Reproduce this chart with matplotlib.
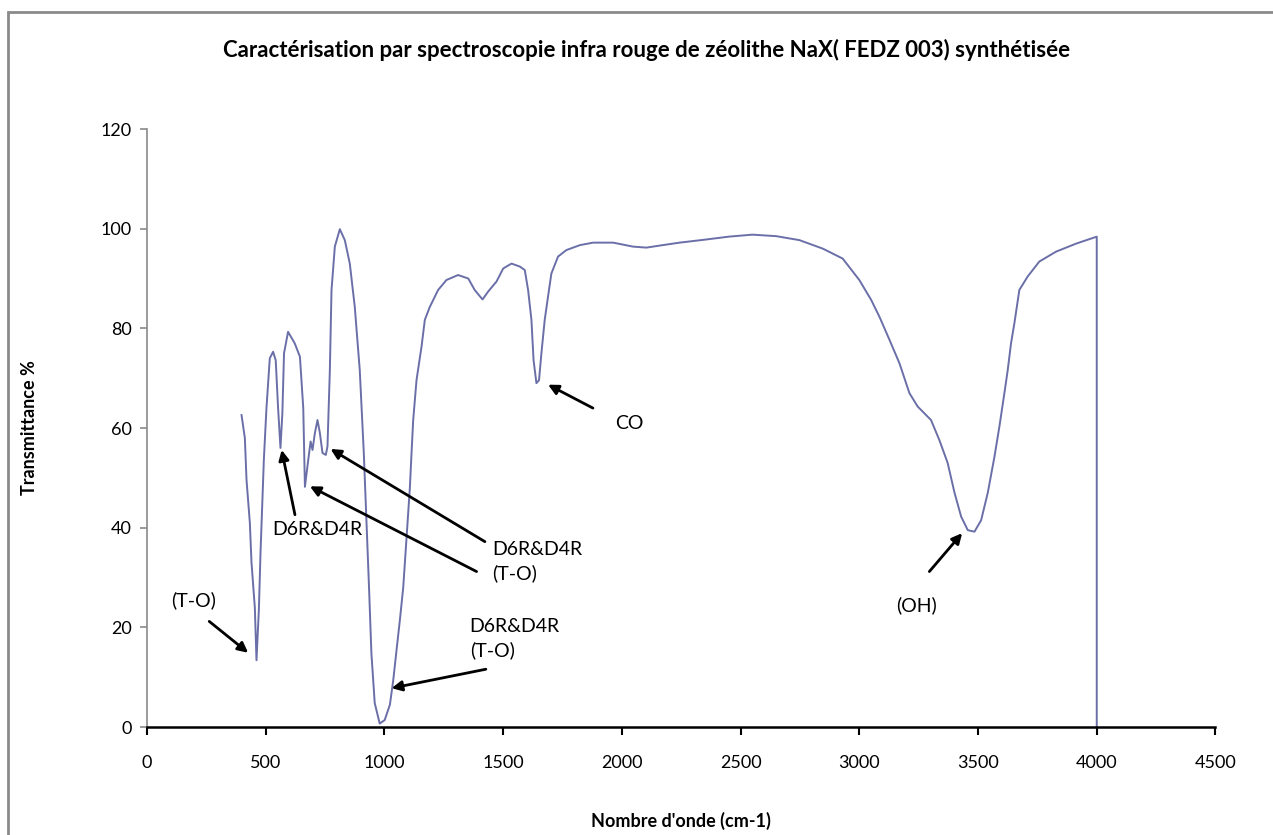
import matplotlib
matplotlib.use('Agg')
import matplotlib.pyplot as plt
from matplotlib.patches import Rectangle

plt.rcParams['font.family'] = ['Lato', 'DejaVu Sans']

# spectrum (wavenumber cm-1, transmittance %)
wavenumber = [398, 412, 419, 433, 440, 454, 461, 471, 478, 492, 503, 517, 531, 542,
              552, 562, 570, 577, 594, 622, 644, 658, 665, 679, 689, 697, 707, 718,
              728, 739, 753, 760, 770, 777, 791, 812, 833, 854, 875, 896, 913, 924,
              935, 945, 959, 980, 1001, 1023, 1037, 1051, 1065, 1079, 1093, 1107,
              1114, 1121, 1135, 1156, 1170, 1191, 1226, 1261, 1310, 1353, 1380, 1413,
              1437, 1472, 1500, 1535, 1570, 1591, 1605, 1619, 1628, 1640, 1651, 1661,
              1675, 1689, 1703, 1731, 1766, 1823, 1879, 1963, 2047, 2103, 2172, 2243,
              2350, 2450, 2550, 2650, 2748, 2846, 2930, 3000, 3050, 3085, 3127, 3169,
              3211, 3246, 3302, 3337, 3372, 3401, 3429, 3457, 3485, 3513, 3541, 3569,
              3590, 3611, 3625, 3639, 3653, 3674, 3709, 3758, 3829, 3913, 4000, 4000]
transmittance = [62.6, 58, 49.6, 41, 33, 24, 13.4, 23.5, 35, 53.6, 64, 74, 75.3, 73.6,
                 64, 56, 63, 75, 79.3, 77, 74.3, 64, 48.2, 53.6, 57.3, 55.6, 59, 61.6,
                 59, 55, 54.6, 56.3, 71.6, 87.7, 96.4, 99.9, 97.7, 93, 84.3, 71.6, 55, 41.5,
                 28, 14.8, 4.8, 0.7, 1.4, 4.5, 9.4, 15.5, 21.5, 28, 38, 48,
                 55, 61.6, 69.6, 76.3, 81.7, 84.3, 87.7, 89.7, 90.7, 90, 87.7, 85.8,
                 87.4, 89.4, 92, 93, 92.4, 91.7, 87.7, 81.7, 73.6, 69, 69.6, 75,
                 81.7, 86.4, 91, 94.4, 95.7, 96.7, 97.2, 97.2, 96.4, 96.2, 96.7, 97.2,
                 97.8, 98.4, 98.8, 98.5, 97.7, 96, 94, 89.7, 85.7, 82.3, 77.7, 73,
                 67, 64.3, 61.6, 57.6, 53, 47, 42.2, 39.5, 39.2, 41.5, 47, 54.2,
                 60.3, 67, 71.6, 77, 81, 87.7, 90.4, 93.4, 95.4, 97, 98.4, 0]

x_ticks = [0, 500, 1000, 1500, 2000, 2500, 3000, 3500, 4000, 4500]
y_ticks = [0, 20, 40, 60, 80, 100, 120]

# (text, text position, arrow tail, arrow head) in data units
annotations = [
    ('(T-O)', (194, 25.5), (262, 21.2), (426, 14.9)),
    ('D6R&D4R', (718, 39.6), (623, 42.6), (567, 55.6)),
    (None, None, (1388, 31.2), (686, 48.3)),
    (None, None, (1423, 37.2), (773, 55.8)),
    ('D6R&D4R\n(T-O)', (1452, 33.2), None, None),
    ('D6R&D4R\n(T-O)', (1359, 17.8), None, None),
    (None, None, (1427, 11.6), (1030, 7.8)),
    ('CO', (2033, 61), (1878, 64), (1689, 68.7)),
    ('(OH)', (3239, 24.5), (3295, 31.2), (3433, 38.9)),
]

fig = plt.figure(figsize=(12.73, 8.35), dpi=100)
ax = fig.add_axes([0.1155, 0.1293, 0.8393, 0.7162])

ax.plot(wavenumber, transmittance, color='#6a6fa8', lw=1.4)

ax.set_xlim(0, 4500)
ax.set_ylim(0, 120)
ax.set_xticks(x_ticks)
ax.set_yticks(y_ticks)

for side in ['top', 'right']:
    ax.spines[side].set_visible(False)
ax.spines['left'].set_color('#8a8a8a')
ax.spines['left'].set_linewidth(1.2)
ax.spines['bottom'].set_color('black')
ax.spines['bottom'].set_linewidth(1.8)
ax.tick_params(axis='y', colors='#8a8a8a', labelcolor='black', length=5, width=1.2,
               labelsize=13, pad=6)
ax.tick_params(axis='x', colors='black', length=6, width=1.5, labelsize=13, pad=14)

ax.set_xlabel("Nombre d'onde (cm-1)", fontsize=13, fontweight='bold')
ax.xaxis.set_label_coords(0.5, -0.142)
ax.set_ylabel('Transmittance %', fontsize=13, fontweight='bold')
ax.yaxis.set_label_coords(-0.102, 0.5)

fig.text(0.508, 0.94, 'Caractérisation par spectroscopie infra rouge de zéolithe NaX( FEDZ 003) synthétisée',
         ha='center', va='center', fontsize=16, fontweight='bold')

for label, text_pos, tail, head in annotations:
    if label is not None:
        ha = 'left' if '\n' in label else 'center'
        ax.text(text_pos[0], text_pos[1], label, ha=ha, va='center', fontsize=14,
                linespacing=1.45)
    if tail is not None:
        ax.annotate('', xy=head, xytext=tail,
                    arrowprops=dict(arrowstyle='-|>', color='black', lw=2,
                                    mutation_scale=15, shrinkA=0, shrinkB=0))

# outer chart frame
fig.patches.append(Rectangle((8 / 1273, -0.1), 1.2, 1 - 12 / 835 + 0.1,
                             transform=fig.transFigure, fill=False,
                             edgecolor='#8a8a8a', lw=2))

fig.savefig('out.png', dpi=100)
